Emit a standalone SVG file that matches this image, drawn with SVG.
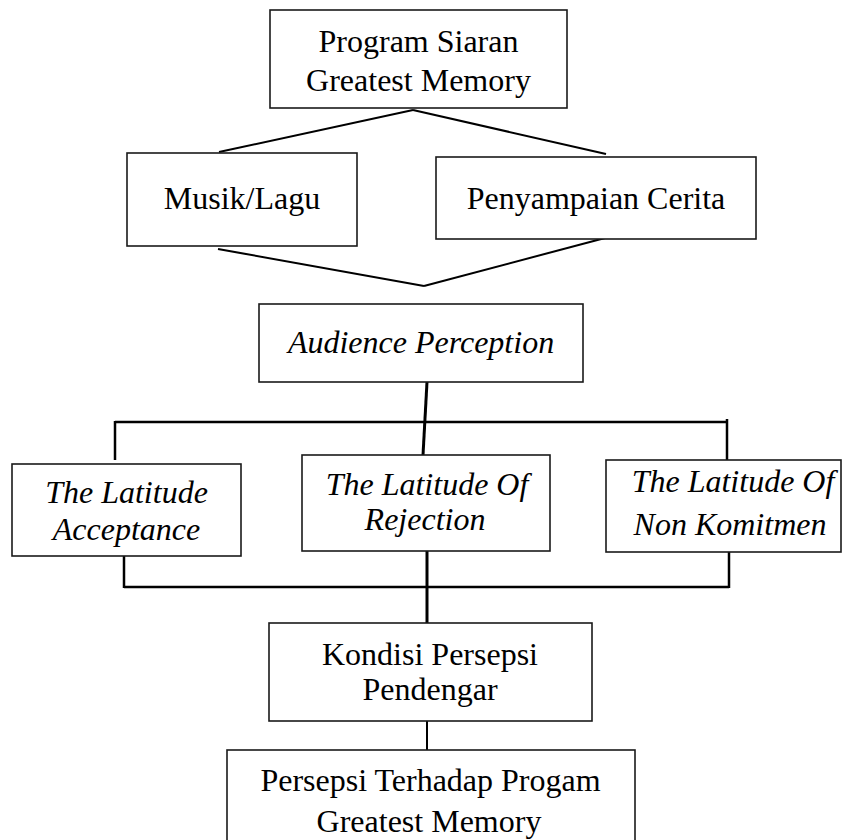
<svg xmlns="http://www.w3.org/2000/svg" width="842" height="840" viewBox="0 0 842 840">
<style>
  .box { fill: #ffffff; stroke: #1a1a1a; stroke-width: 1.6; }
  .t { font-family: "Liberation Serif", "Times New Roman", serif; font-size: 32px; fill: #000; text-anchor: middle; }
  .i { font-style: italic; }
  .c { stroke: #000; fill: none; stroke-linecap: butt; }
  .thin { stroke-width: 2; }
  .mid { stroke-width: 2.5; }
  .thick { stroke-width: 3; }
</style>
<rect x="0" y="0" width="842" height="840" fill="#ffffff"/>
<g id="connectors">
  <line class="c thin" x1="413" y1="110" x2="219" y2="152"/>
  <line class="c thin" x1="413" y1="110" x2="606" y2="154"/>
  <line class="c thin" x1="218" y1="249" x2="424" y2="286"/>
  <line class="c thin" x1="605" y1="238" x2="424" y2="286"/>
  <line class="c thick" x1="427" y1="382" x2="423" y2="455"/>
  <line class="c mid" x1="115" y1="422" x2="727" y2="422"/>
  <line class="c mid" x1="115" y1="421" x2="115" y2="460"/>
  <line class="c mid" x1="727" y1="419" x2="727" y2="460"/>
  <line class="c mid" x1="124" y1="552" x2="124" y2="588"/>
  <line class="c mid" x1="729" y1="552" x2="729" y2="588"/>
  <line class="c mid" x1="124" y1="587" x2="729" y2="587"/>
  <line class="c thick" x1="427" y1="546" x2="427" y2="623"/>
  <line class="c thin" x1="427" y1="721" x2="427" y2="750"/>
</g>
<g id="program-siaran">
  <rect class="box" x="270" y="10" width="297" height="98"/>
  <text class="t" x="418.5" y="52">Program Siaran</text>
  <text class="t" x="418.5" y="91">Greatest Memory</text>
</g>
<g id="musik-lagu">
  <rect class="box" x="127" y="153" width="230" height="93"/>
  <text class="t" x="242" y="209">Musik/Lagu</text>
</g>
<g id="penyampaian-cerita">
  <rect class="box" x="436" y="157" width="320" height="82"/>
  <text class="t" x="596" y="209">Penyampaian Cerita</text>
</g>
<g id="audience-perception">
  <rect class="box" x="259" y="304" width="324" height="78"/>
  <text class="t i" x="421" y="353">Audience Perception</text>
</g>
<g id="latitude-acceptance">
  <rect class="box" x="12" y="464" width="229" height="92"/>
  <text class="t i" x="126.5" y="503">The Latitude</text>
  <text class="t i" x="126.5" y="540">Acceptance</text>
</g>
<g id="latitude-rejection">
  <rect class="box" x="302" y="455" width="248" height="96"/>
  <text class="t i" x="427" y="495">The Latitude Of</text>
  <text class="t i" x="425" y="530">Rejection</text>
</g>
<g id="latitude-non-komitmen">
  <rect class="box" x="606" y="460" width="235" height="92"/>
  <text class="t i" x="733" y="492">The Latitude Of</text>
  <text class="t i" x="730" y="535">Non Komitmen</text>
</g>
<g id="kondisi-persepsi">
  <rect class="box" x="269" y="623" width="323" height="98"/>
  <text class="t" x="430" y="665">Kondisi Persepsi</text>
  <text class="t" x="430" y="700">Pendengar</text>
</g>
<g id="persepsi-terhadap">
  <rect class="box" x="227" y="750" width="408" height="100"/>
  <text class="t" x="430.5" y="791">Persepsi Terhadap Progam</text>
  <text class="t" x="429" y="832">Greatest Memory</text>
</g>
</svg>
